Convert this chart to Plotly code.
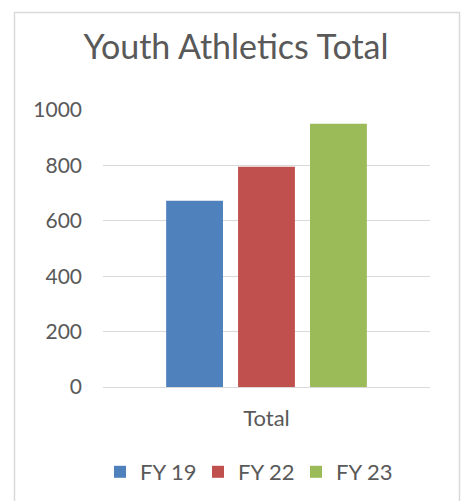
import plotly.graph_objects as go

# Youth athletics participation by fiscal year
categories = ["Total"]
series_names = ["FY 19", "FY 22", "FY 23"]
series_values = [[672], [795], [950]]
series_colors = ["#4F81BD", "#C0504D", "#9BBB59"]
y_ticks = [0, 200, 400, 600, 800, 1000]

FONT = "Lato, 'Open Sans', sans-serif"
TEXT = "#595959"
GRID = "#D9D9D9"

fig = go.Figure()
for name, vals, color in zip(series_names, series_values, series_colors):
    fig.add_trace(go.Bar(name=name, x=categories, y=vals,
                         marker=dict(color=color, line=dict(width=0))))

W, H = 461, 501
L, R, T, B = 103, 31, 110, 114
pw, ph = W - L - R, H - T - B


def px_x(x):
    return (x - L) / pw


def px_y(y):
    return (H - B - y) / ph


fig.update_layout(
    width=W, height=H,
    margin=dict(l=L, r=R, t=T, b=B),
    paper_bgcolor="white", plot_bgcolor="white",
    barmode="group", bargap=0.34, bargroupgap=0.21,
    font=dict(family=FONT, color=TEXT, size=20),
    title=dict(text="Youth Athletics Total", x=236 / W, xanchor="center",
               y=1 - 47 / H, yanchor="middle",
               font=dict(family=FONT, size=34, color=TEXT)),
    showlegend=True,
    legend=dict(orientation="h", x=100 / W, xref="container", xanchor="left",
                y=1 - 472 / H, yref="container", yanchor="middle",
                font=dict(family=FONT, size=22, color=TEXT),
                entrywidth=53, entrywidthmode="pixels",
                traceorder="normal"),
    xaxis=dict(showgrid=False, showline=True, linecolor=GRID, linewidth=1,
               tickfont=dict(family=FONT, size=22, color=TEXT),
               ticklabelstandoff=12),
    yaxis=dict(range=[0, 1000], tickvals=y_ticks, showgrid=True,
               gridcolor=GRID, gridwidth=1, zeroline=True, zerolinecolor=GRID,
               zerolinewidth=1, showline=False,
               tickfont=dict(family=FONT, size=21, color=TEXT),
               ticklabelstandoff=20),
    shapes=[dict(type="rect", xref="paper", yref="paper",
                 x0=px_x(14.5), x1=px_x(459.5), y0=px_y(520), y1=px_y(12.5),
                 line=dict(color=GRID, width=1.5), fillcolor="rgba(0,0,0,0)",
                 layer="below")],
)

fig.write_html("out.html")
